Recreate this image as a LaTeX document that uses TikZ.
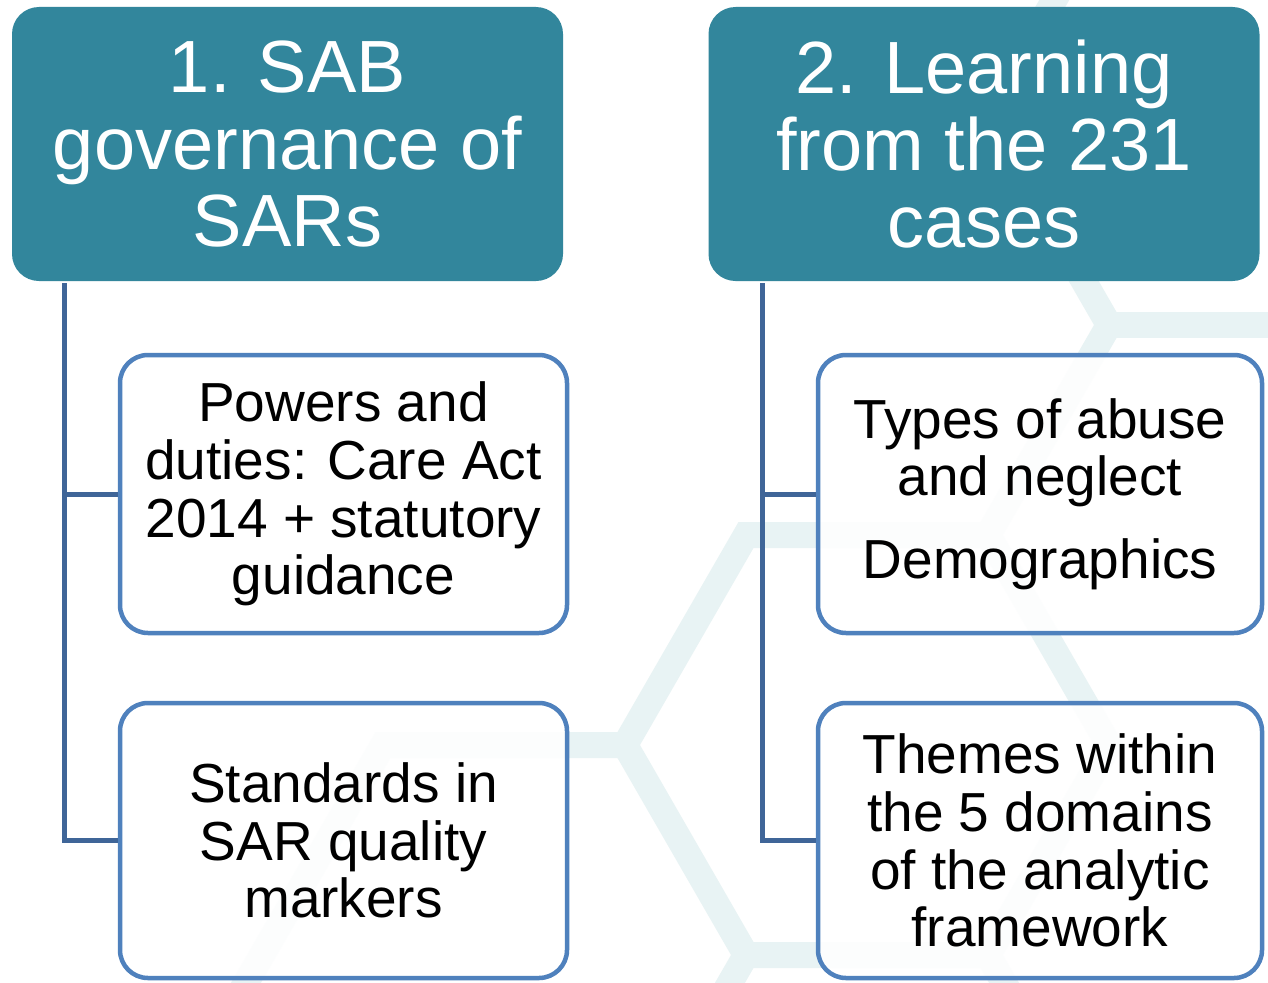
\documentclass[tikz,border=0pt]{standalone}
\usepackage{fontspec}
\setmainfont{Liberation Sans}
\definecolor{hdrfill}{RGB}{50,134,156}
\definecolor{boxline}{RGB}{79,129,189}
\definecolor{connline}{RGB}{63,101,152}
\definecolor{hexcol}{RGB}{232,243,244}
\begin{document}
\begin{tikzpicture}[x=1pt,y=-1pt,
  hdr/.style={draw=none, fill=hdrfill, rounded corners=27pt, text=white, align=center,
    font=\fontsize{74}{76.7}\selectfont, minimum width=551pt, minimum height=274pt, inner sep=0pt},
  child/.style={draw=boxline, line width=4.5pt, fill=white, fill opacity=0.9, text opacity=1,
    rounded corners=28pt, align=center, font=\fontsize{55}{57.7}\selectfont,
    minimum width=447pt, minimum height=278pt, inner sep=0pt},
  conn/.style={draw=connline, line width=5pt},
  hexband/.style={draw=hexcol, line width=26pt, line join=miter}]
\fill[white] (0,0) rectangle (1268,982);
\useasboundingbox (0,0) rectangle (1268,982);
% background honeycomb
\draw[hexband] (1109,-95) -- (988,115) -- (1109,325) -- (988,535) -- (1109,745) -- (988,955) -- (1109,1165);
\draw[hexband] (1351,325) -- (1109,325);
\draw[hexband] (988,535) -- (746,535) -- (625,745) -- (746,955) -- (988,955);
\draw[hexband] (625,745) -- (383,745) -- (262,955) -- (141,1165);
\draw[hexband] (746,955) -- (625,1165);
% headers
\node[hdr] (h1) at (287.5,144) {1. SAB\\governance of\\SARs};
\node[hdr] (h2) at (984,144) {2. Learning\\from the 231\\cases};
% children
\node[child] (c1) at (343.5,494) {Powers and\\duties: Care Act\\2014 + statutory\\guidance};
\node[child, minimum height=275pt] (c2) at (343.5,840.5) {Standards in\\SAR quality\\markers};
\node[child, minimum width=444pt] (c3) at (1040,494) {Types of abuse\\and neglect\\[25pt]Demographics};
\node[child, minimum width=444pt, minimum height=275pt] (c4) at (1040,840.5) {Themes within\\the 5 domains\\of the analytic\\framework};
% connectors
\draw[conn] ([xshift=53pt,yshift=-2pt]h1.south west) |- (c1.west);
\draw[conn] ([xshift=53pt,yshift=-2pt]h1.south west) |- (c2.west);
\draw[conn] ([xshift=54pt,yshift=-2pt]h2.south west) |- (c3.west);
\draw[conn] ([xshift=54pt,yshift=-2pt]h2.south west) |- (c4.west);
\end{tikzpicture}
\end{document}
